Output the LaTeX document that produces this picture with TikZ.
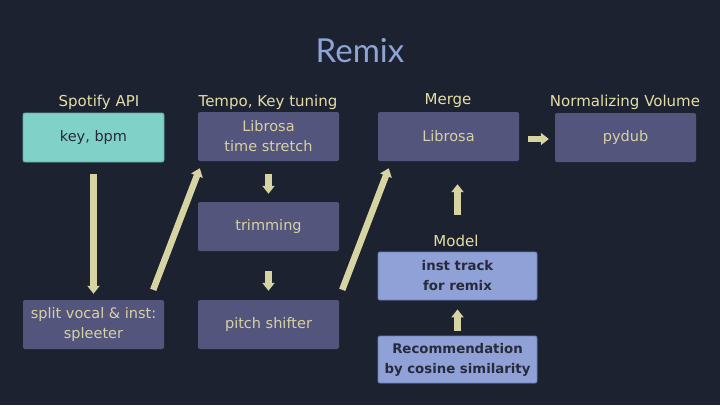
\documentclass[tikz,border=0pt]{standalone}
\usepackage{fontspec}
\setmainfont{DejaVu Sans}
\newfontfamily\titlefont{Lato}
\usetikzlibrary{arrows.meta,calc}
\definecolor{bgc}{HTML}{1D2231}
\definecolor{boxp}{HTML}{53557D}
\definecolor{boxt}{HTML}{80D2C8}
\definecolor{boxtb}{HTML}{5AA9A8}
\definecolor{boxb}{HTML}{8FA1D6}
\definecolor{boxbb}{HTML}{6C7FB8}
\definecolor{arrc}{HTML}{D5D4A2}
\definecolor{labc}{HTML}{E3DFA6}
\definecolor{txtl}{HTML}{D6D2A2}
\definecolor{txtd}{HTML}{262A3A}
\definecolor{titc}{HTML}{8EA3D6}
\begin{document}
\begin{tikzpicture}[x=1pt,y=-1pt,
  base/.style={rounded corners=2pt, minimum width=141pt, minimum height=49pt, align=center, inner sep=0pt, font=\fontsize{14.5}{20}\selectfont},
  pbox/.style={base, fill=boxp, text=txtl},
  tbox/.style={base, fill=boxt, draw=boxtb, line width=0.8pt, text=txtd},
  bbox/.style={base, fill=boxb, draw=boxbb, line width=0.8pt, text=txtd, minimum width=159pt, minimum height=48pt, font=\fontsize{13.3}{20}\selectfont\bfseries},
  lab/.style={text=labc, font=\fontsize{15}{17}\selectfont, inner sep=0pt},
  arr/.style={draw=arrc, line width=6.5pt, -{Triangle[width=12pt,length=8pt]}}
]
\useasboundingbox (0,0) rectangle (720,405);
\fill[bgc] (0,0) rectangle (720,405);
\node[text=titc, font=\titlefont\fontsize{33}{36}\selectfont] (title) at (360,51) {Remix};

\node[tbox] (keybpm) at (93.5,137.5) {key, bpm};
\node[pbox] (lts) at (268.5,136.5) {Librosa\\time stretch};
\node[pbox] (trim) at (268.5,226.5) {trimming};
\node[pbox] (pitch) at (268.5,324.5) {pitch shifter};
\node[pbox] (split) at (93.5,324.5) {split vocal \& inst:\\spleeter};
\node[pbox] (merge) at (448.5,136.5) {Librosa};
\node[pbox] (pydub) at (625.5,137.5) {pydub};
\node[bbox] (inst) at (457.5,276) {inst track\\for remix};
\node[bbox, minimum height=47pt] (rec) at (457.5,359.5) {Recommendation\\by cosine similarity};

\node[lab] (l1) at (99,102) {Spotify API};
\node[lab] (l2) at (268,102) {Tempo, Key tuning};
\node[lab] (l3) at (448,101) {Merge};
\node[lab] (l4) at (625,102) {Normalizing Volume};
\node[lab] (l5) at (456,241) {Model};

\draw[arr] ($(keybpm.south)+(0,12)$) -- ($(split.north)+(0,-6)$);
\draw[arr] ($(split.north east)+(-11,-10)$) -- ($(lts.south west)+(2,7)$);
\draw[arr] ($(lts.south)+(0,13)$) -- ($(trim.north)+(0,-8)$);
\draw[arr] ($(trim.south)+(0,20)$) -- ($(pitch.north)+(0,-9)$);
\draw[arr] ($(pitch.north east)+(3,-10)$) -- ($(merge.south west)+(11,7)$);
\draw[arr] ($(inst.north)+(0,-37)$) -- ($(merge.south)+(9,23)$);
\draw[arr] ($(rec.north)+(0,-5)$) -- ($(inst.south)+(0,9)$);
\draw[arr] ($(merge.east)+(9,2.5)$) -- ($(pydub.west)+(-6,1.5)$);
\end{tikzpicture}
\end{document}
